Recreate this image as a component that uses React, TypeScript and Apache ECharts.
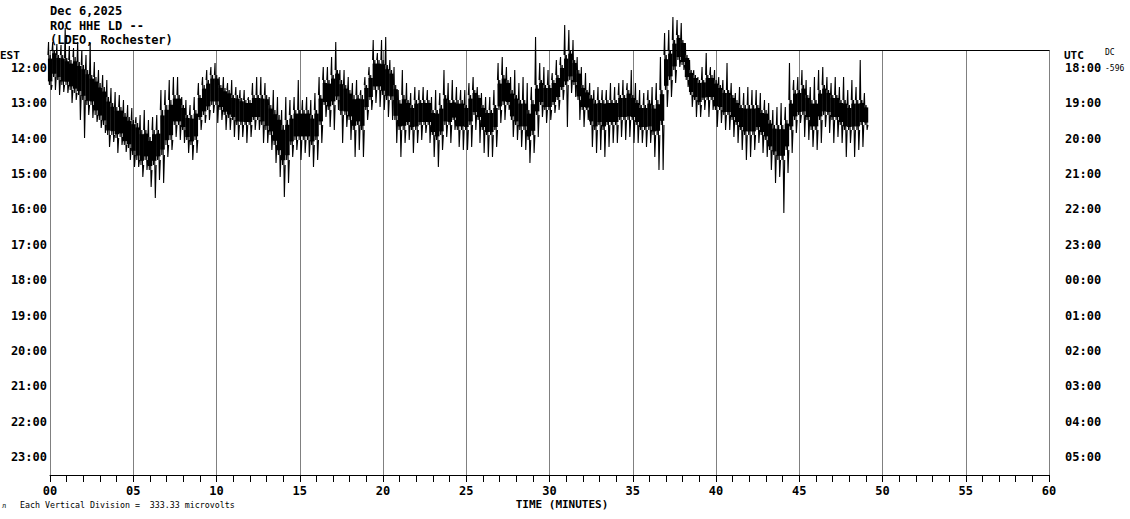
import React, { useEffect, useRef } from "react";
import * as echarts from "echarts";

// Helicorder header / labels
const titleLines = ["Dec 6,2025", "ROC HHE LD --", "(LDEO, Rochester)"];
const estHours = ["12:00", "13:00", "14:00", "15:00", "16:00", "17:00", "18:00", "19:00", "20:00", "21:00", "22:00", "23:00"];
const utcHours = ["18:00", "19:00", "20:00", "21:00", "22:00", "23:00", "00:00", "01:00", "02:00", "03:00", "04:00", "05:00"];
const scaleNote = "Each Vertical Division =  333.33 microvolts";
const dcLabel = "DC";
const dcValue = "-596";

// Trace sampled every 0.25 minute (0 .. 49 min); values in trace-offset units (plot scale 50..475, downward)
const SAMPLE_MIN = 0.25;
const spikeTop = [
  42, 42, 44, 45, 28, 46, 48, 42, 50, 55,
  43, 62, 70, 75, 80, 88, 92, 95, 100, 105,
  108, 117, 115, 110, 120, 117, 115, 90, 90, 80,
  77, 77, 97, 100, 105, 97, 83, 77, 70, 67,
  63, 77, 77, 83, 80, 87, 90, 90, 97, 83,
  77, 77, 83, 97, 90, 97, 110, 97, 100, 97,
  80, 100, 97, 100, 93, 77, 67, 67, 57, 42,
  70, 70, 77, 83, 80, 90, 77, 67, 40, 53,
  40, 37, 60, 67, 90, 70, 83, 93, 87, 90,
  87, 90, 97, 90, 93, 70, 83, 80, 87, 90,
  90, 83, 77, 87, 93, 97, 97, 90, 63, 57,
  67, 77, 70, 83, 77, 83, 87, 37, 63, 67,
  70, 73, 60, 57, 25, 30, 40, 57, 67, 73,
  83, 90, 87, 90, 90, 83, 87, 83, 80, 83,
  70, 83, 90, 93, 90, 87, 83, 57, 33, 30,
  17, 20, 23, 43, 60, 70, 77, 67, 53, 67,
  70, 77, 80, 63, 83, 93, 87, 93, 87, 90,
  90, 93, 100, 103, 110, 107, 103, 107, 63, 80,
  77, 70, 80, 87, 77, 70, 67, 77, 83, 77,
  87, 77, 90, 80, 87, 60, 93,
];
const coreTop = [
  55, 50, 55, 55, 58, 60, 57, 62, 65, 70,
  75, 77, 83, 87, 97, 103, 107, 107, 113, 117,
  120, 123, 130, 130, 137, 130, 130, 110, 105, 100,
  95, 95, 105, 115, 115, 110, 95, 85, 80, 75,
  75, 85, 88, 90, 95, 95, 98, 100, 100, 95,
  95, 95, 95, 105, 110, 115, 125, 120, 115, 110,
  110, 110, 110, 115, 110, 95, 80, 80, 75, 70,
  80, 85, 90, 95, 95, 95, 85, 75, 60, 60,
  60, 65, 70, 85, 100, 95, 100, 105, 100, 100,
  100, 100, 110, 110, 105, 95, 100, 100, 100, 100,
  105, 95, 90, 95, 105, 110, 110, 105, 80, 75,
  80, 90, 95, 100, 100, 110, 100, 85, 80, 85,
  85, 80, 75, 65, 55, 50, 60, 70, 85, 90,
  95, 100, 100, 100, 100, 100, 100, 95, 95, 90,
  95, 100, 105, 105, 100, 105, 100, 90, 55, 50,
  40, 35, 40, 55, 70, 75, 80, 80, 75, 75,
  80, 85, 90, 90, 95, 100, 105, 105, 105, 105,
  105, 110, 110, 120, 125, 125, 125, 120, 100, 90,
  90, 85, 95, 100, 100, 90, 85, 90, 95, 95,
  100, 100, 105, 100, 100, 100, 105,
];
const coreBot = [
  85, 77, 80, 85, 85, 90, 93, 95, 100, 105,
  105, 115, 120, 125, 135, 135, 138, 137, 145, 148,
  155, 160, 165, 160, 170, 165, 160, 155, 145, 140,
  125, 125, 130, 140, 145, 140, 120, 115, 110, 105,
  105, 110, 115, 118, 120, 125, 125, 125, 125, 120,
  120, 125, 130, 135, 145, 155, 165, 160, 145, 140,
  140, 140, 140, 145, 140, 125, 105, 110, 105, 100,
  115, 115, 120, 130, 125, 130, 110, 100, 90, 90,
  95, 100, 100, 120, 130, 130, 125, 130, 130, 125,
  125, 125, 135, 140, 135, 125, 125, 120, 130, 130,
  130, 125, 115, 120, 130, 135, 135, 130, 110, 105,
  105, 120, 125, 130, 130, 140, 135, 115, 105, 110,
  110, 105, 100, 90, 85, 80, 85, 100, 110, 110,
  125, 130, 125, 130, 125, 125, 125, 120, 120, 120,
  120, 125, 130, 130, 130, 135, 135, 125, 90, 80,
  70, 60, 65, 80, 95, 100, 105, 100, 100, 100,
  110, 110, 115, 115, 120, 125, 130, 135, 135, 135,
  130, 135, 140, 150, 155, 160, 160, 150, 130, 120,
  115, 115, 120, 130, 130, 120, 115, 115, 120, 120,
  125, 130, 130, 130, 130, 125, 125,
];
const spikeBot = [
  90, 90, 95, 92, 93, 103, 100, 120, 138, 115,
  118, 122, 128, 133, 147, 142, 153, 145, 152, 160,
  167, 167, 177, 170, 187, 198, 180, 183, 157, 150,
  137, 140, 143, 153, 160, 153, 130, 123, 120, 113,
  123, 120, 130, 130, 137, 140, 137, 143, 137, 130,
  130, 143, 143, 150, 163, 177, 197, 183, 157, 150,
  160, 153, 157, 167, 160, 143, 117, 127, 130, 110,
  143, 127, 140, 157, 150, 157, 120, 110, 103, 107,
  110, 117, 120, 143, 157, 143, 140, 153, 143, 140,
  133, 143, 157, 167, 150, 137, 143, 130, 147, 150,
  150, 147, 130, 143, 153, 157, 157, 147, 123, 120,
  110, 137, 140, 147, 150, 163, 153, 137, 117, 123,
  120, 113, 110, 100, 127, 93, 97, 120, 127, 120,
  147, 153, 150, 157, 147, 143, 143, 137, 140, 137,
  143, 143, 143, 147, 143, 157, 170, 170, 107, 97,
  83, 67, 70, 87, 107, 117, 117, 110, 117, 110,
  127, 123, 130, 130, 137, 143, 150, 160, 157, 150,
  143, 153, 157, 170, 183, 177, 213, 173, 153, 133,
  123, 137, 140, 147, 150, 143, 127, 133, 143, 137,
  143, 157, 143, 157, 150, 147, 130,
];

const FONT = "'DejaVu Sans Mono', monospace";

export default function App() {
  const ref = useRef<HTMLDivElement>(null);

  useEffect(() => {
    if (!ref.current) return;
    const chart = echarts.init(ref.current, null, { renderer: "svg" });

    const traceData = spikeTop.map((v, i) => [i * SAMPLE_MIN, v, coreTop[i], coreBot[i], spikeBot[i]]);

    const labelStyle = { color: "#000", fontFamily: FONT, fontWeight: "bold" as const, fontSize: 12 };

    const option: any = {
      animation: false,
      backgroundColor: "#ffffff",
      grid: { left: 50, right: 81, top: 50, bottom: 44, containLabel: false },
      xAxis: [
        {
          type: "value",
          min: 0,
          max: 60,
          interval: 5,
          position: "bottom",
          axisLine: { show: true, onZero: false, lineStyle: { color: "#000", width: 1 } },
          axisTick: { show: true, inside: false, length: 7, lineStyle: { color: "#000", width: 1 } },
          minorTick: { show: true, splitNumber: 5, length: 7, lineStyle: { color: "#000", width: 1 } },
          axisLabel: {
            ...labelStyle,
            margin: 10,
            formatter: (v: number) => String(v).padStart(2, "0"),
          },
          splitLine: { show: true, lineStyle: { color: "#808080", width: 1 } },
          minorSplitLine: { show: false },
        },
        {
          type: "value",
          min: 0,
          max: 60,
          position: "top",
          axisLine: { show: true, onZero: false, lineStyle: { color: "#000", width: 1 } },
          axisTick: { show: false },
          axisLabel: { show: false },
          splitLine: { show: false },
        },
      ],
      yAxis: [
        {
          type: "category",
          data: estHours,
          inverse: true,
          position: "left",
          axisLine: { show: false },
          axisTick: { show: false },
          axisLabel: { ...labelStyle, margin: 3 },
          splitLine: { show: false },
        },
        {
          type: "category",
          data: utcHours,
          inverse: true,
          position: "right",
          axisLine: { show: false },
          axisTick: { show: false },
          axisLabel: { ...labelStyle, margin: 16 },
          splitLine: { show: false },
        },
        {
          type: "value",
          min: 50,
          max: 475,
          inverse: true,
          show: false,
          splitLine: { show: false },
        },
      ],
      graphic: [
        ...titleLines.map((t, i) => ({
          type: "text",
          left: 50,
          top: 5 + i * 14.5,
          style: { text: t, font: `bold 12px ${FONT}`, fill: "#000" },
        })),
        { type: "text", left: 0, top: 50, style: { text: "EST", font: `bold 11px ${FONT}`, fill: "#000" } },
        { type: "text", left: 1064, top: 50, style: { text: "UTC", font: `bold 11px ${FONT}`, fill: "#000" } },
        { type: "text", left: 1105, top: 48, style: { text: dcLabel, font: `8px ${FONT}`, fill: "#000" } },
        { type: "text", left: 1105, top: 64, style: { text: dcValue, font: `8px ${FONT}`, fill: "#000" } },
        {
          type: "text",
          x: 562,
          y: 504,
          style: { text: "TIME (MINUTES)", font: `bold 11px ${FONT}`, fill: "#000", align: "center", verticalAlign: "middle" },
        },
        {
          type: "text",
          x: 20,
          y: 505,
          style: { text: scaleNote, font: `8.3px ${FONT}`, fill: "#000", verticalAlign: "middle" },
        },
        {
          type: "text",
          x: 2,
          y: 506,
          style: { text: "л", font: `7px ${FONT}`, fill: "#000", verticalAlign: "middle" },
        },
      ],
      series: [
        {
          type: "custom",
          xAxisIndex: 0,
          yAxisIndex: 2,
          silent: true,
          clip: false,
          data: traceData,
          renderItem: (params: any, api: any) => {
            const t = api.value(0);
            const yST = api.coord([t, api.value(1)])[1];
            const yCT = api.coord([t, api.value(2)])[1];
            const yCB = api.coord([t, api.value(3)])[1];
            const ySB = api.coord([t, api.value(4)])[1];
            const x = api.coord([t, api.value(2)])[0];
            const w = api.size([SAMPLE_MIN, 0])[0];
            const band = yCB - yCT;
            return {
              type: "group",
              children: [
                {
                  type: "rect",
                  shape: { x: x - w / 2, y: yCT + band * 0.12, width: w + 0.3, height: band * 0.76 },
                  style: { fill: "#000" },
                },
                {
                  type: "polyline",
                  shape: {
                    points: [
                      [x - w * 0.5, yCT],
                      [x - w * 0.35, yST],
                      [x - w * 0.15, yCB],
                      [x + w * 0.05, yCT],
                      [x + w * 0.3, ySB],
                      [x + w * 0.5, yCB],
                    ],
                  },
                  style: { stroke: "#000", lineWidth: 1.1, fill: null },
                },
              ],
            };
          },
        },
      ],
    };

    chart.setOption(option);
    return () => chart.dispose();
  }, []);

  return (
    <div
      ref={ref}
      style={{ position: "fixed", left: 0, top: 0, width: 1130, height: 519, background: "#fff" }}
    />
  );
}
